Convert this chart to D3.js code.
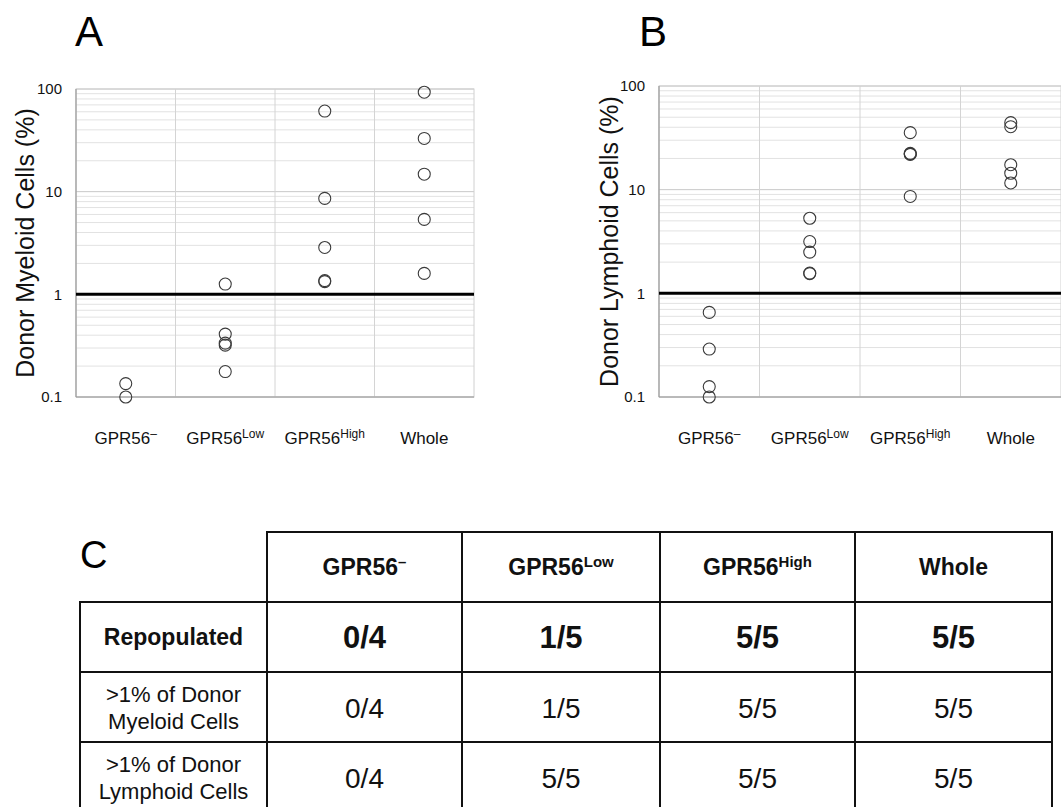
<!DOCTYPE html>
<html>
<head>
<meta charset="utf-8">
<script src="https://cdn.jsdelivr.net/npm/d3@7/dist/d3.min.js"></script>
<style>
  html, body { margin: 0; padding: 0; background: #fff; }
  svg { display: block; font-family: "Liberation Sans", Arial, sans-serif; }
</style>
</head>
<body>
<svg id="chart" width="1061" height="807"></svg>
<script>
// ---------- DATA ----------
const categoryMain = ["GPR56", "GPR56", "GPR56", "Whole"];
const categorySup  = ["\u2013", "Low", "High", ""];

// Panel A: Donor Myeloid Cells (%)
const myeloidNeg  = [0.135, 0.1];
const myeloidLow  = [1.26, 0.41, 0.335, 0.32, 0.177];
const myeloidHigh = [61, 8.6, 2.86, 1.36, 1.33];
const myeloidWhole = [93, 33, 14.8, 5.37, 1.6];

// Panel B: Donor Lymphoid Cells (%)
const lymphoidNeg  = [0.655, 0.29, 0.126, 0.1];
const lymphoidLow  = [5.3, 3.16, 2.5, 1.57, 1.55];
const lymphoidHigh = [35.5, 22.4, 22.1, 21.9, 8.6];
const lymphoidWhole = [44.3, 40.5, 17.4, 14.4, 11.6];

const yTickLabels = [0.1, 1, 10, 100];
const threshold = 1;

// Panel C table
const tableRowLabels = [["Repopulated"], [">1% of Donor", "Myeloid Cells"], [">1% of Donor", "Lymphoid Cells"]];
const repopulated   = ["0/4", "1/5", "5/5", "5/5"];
const myeloidOver1  = ["0/4", "1/5", "5/5", "5/5"];
const lymphoidOver1 = ["0/4", "5/5", "5/5", "5/5"];

// ---------- DRAW ----------
const svg = d3.select("#chart");

function catLabel(sel, i, sizeMain, sizeSup) {
  sel.append("tspan").text(categoryMain[i]);
  if (categorySup[i]) {
    sel.append("tspan")
      .attr("font-size", sizeSup)
      .attr("dy", -sizeMain * 0.36)
      .text(categorySup[i]);
  }
}

function drawPanel(cfg) {
  const g = svg.append("g");
  const x = d3.scaleBand().domain(d3.range(4)).range([cfg.left, cfg.right]).padding(0);
  const y = d3.scaleLog().domain([0.1, 100]).range([cfg.bottom, cfg.top]);

  // minor + major horizontal gridlines
  const allTicks = y.ticks();
  g.append("g").selectAll("line").data(allTicks).join("line")
    .attr("x1", cfg.left).attr("x2", cfg.right)
    .attr("y1", d => y(d)).attr("y2", d => y(d))
    .attr("stroke", d => yTickLabels.includes(d) ? "#c8c8c8" : "#e2e2e2")
    .attr("stroke-width", 1);

  // vertical category gridlines
  g.append("g").selectAll("line").data(d3.range(1, 4)).join("line")
    .attr("x1", d => x(d)).attr("x2", d => x(d))
    .attr("y1", cfg.top).attr("y2", cfg.bottom)
    .attr("stroke", "#d4d4d4").attr("stroke-width", 1);

  // border
  g.append("rect").attr("x", cfg.left).attr("y", cfg.top)
    .attr("width", cfg.right - cfg.left).attr("height", cfg.bottom - cfg.top)
    .attr("fill", "none").attr("stroke", "#d0d0d0");
  g.append("line").attr("x1", cfg.left).attr("x2", cfg.left).attr("y1", cfg.top).attr("y2", cfg.bottom)
    .attr("stroke", "#9a9a9a").attr("stroke-width", 1.2);
  g.append("line").attr("x1", cfg.left).attr("x2", cfg.right).attr("y1", cfg.bottom).attr("y2", cfg.bottom)
    .attr("stroke", "#9a9a9a").attr("stroke-width", 1.2);

  // y tick labels via axis
  const axis = d3.axisLeft(y).tickValues(yTickLabels).tickSize(0).tickPadding(0)
    .tickFormat(d => d3.format("~g")(d));
  const ag = g.append("g").attr("transform", `translate(${cfg.labelRight},0)`).call(axis);
  ag.select(".domain").remove();
  ag.selectAll("text").attr("font-size", 15).attr("fill", "#111")
    .attr("font-family", "Liberation Sans, Arial, sans-serif");

  // threshold line
  g.append("line").attr("x1", cfg.left).attr("x2", cfg.right)
    .attr("y1", y(threshold)).attr("y2", y(threshold))
    .attr("stroke", "#000").attr("stroke-width", 3);

  // points
  cfg.series.forEach((vals, i) => {
    g.append("g").selectAll("circle").data(vals).join("circle")
      .attr("cx", x(i) + x.bandwidth() / 2)
      .attr("cy", d => y(d))
      .attr("r", 6)
      .attr("fill", "none")
      .attr("stroke", "#3a3a3a")
      .attr("stroke-width", 1.1);
  });

  // x labels
  d3.range(4).forEach(i => {
    const t = g.append("text")
      .attr("x", x(i) + x.bandwidth() / 2)
      .attr("y", cfg.xLabelY)
      .attr("text-anchor", "middle")
      .attr("font-size", 17)
      .attr("fill", "#111");
    catLabel(t, i, 17, 12);
  });

  // y title
  g.append("text")
    .attr("transform", `translate(${cfg.titleX},${(cfg.top + cfg.bottom) / 2}) rotate(-90)`)
    .attr("text-anchor", "middle")
    .attr("dominant-baseline", "central")
    .attr("font-size", 25)
    .attr("fill", "#111")
    .text(cfg.title);

  // panel letter
  g.append("text").attr("x", cfg.letterX).attr("y", 46)
    .attr("font-size", 42).attr("fill", "#000").text(cfg.letter);
}

drawPanel({
  left: 76, right: 474, top: 89, bottom: 397, labelRight: 62,
  xLabelY: 444, titleX: 25, letterX: 75, letter: "A",
  title: "Donor Myeloid Cells (%)",
  series: [myeloidNeg, myeloidLow, myeloidHigh, myeloidWhole]
});
drawPanel({
  left: 659, right: 1061, top: 86, bottom: 397, labelRight: 645,
  xLabelY: 444, titleX: 609, letterX: 639, letter: "B",
  title: "Donor Lymphoid Cells (%)",
  series: [lymphoidNeg, lymphoidLow, lymphoidHigh, lymphoidWhole]
});

// ---------- TABLE (C) ----------
const colEdges = [80, 267, 462, 660, 855, 1052];
const rowEdges = [532, 602, 672, 742, 812];
const tg = svg.append("g");
const rowsData = [repopulated, myeloidOver1, lymphoidOver1];

svg.append("text").attr("x", 80).attr("y", 568).attr("font-size", 38).attr("fill", "#000").text("C");

// header cells
for (let c = 0; c < 4; c++) {
  const x0 = colEdges[c + 1], x1 = colEdges[c + 2];
  tg.append("rect").attr("x", x0).attr("y", rowEdges[0]).attr("width", x1 - x0).attr("height", rowEdges[1] - rowEdges[0])
    .attr("fill", "none").attr("stroke", "#111").attr("stroke-width", 2);
  const t = tg.append("text").attr("x", (x0 + x1) / 2).attr("y", (rowEdges[0] + rowEdges[1]) / 2 + 8)
    .attr("text-anchor", "middle").attr("font-size", 23).attr("font-weight", "bold").attr("fill", "#111");
  catLabel(t, c, 23, 15);
}
// body rows
for (let r = 0; r < 3; r++) {
  const y0 = rowEdges[r + 1], y1 = rowEdges[r + 2];
  const cy = (y0 + y1) / 2;
  for (let c = 0; c < 5; c++) {
    const x0 = colEdges[c], x1 = colEdges[c + 1];
    tg.append("rect").attr("x", x0).attr("y", y0).attr("width", x1 - x0).attr("height", y1 - y0)
      .attr("fill", "none").attr("stroke", "#111").attr("stroke-width", 2);
  }
  const lines = tableRowLabels[r];
  const lbl = tg.append("text").attr("text-anchor", "middle").attr("fill", "#111")
    .attr("font-size", r === 0 ? 23 : 22).attr("font-weight", r === 0 ? "bold" : "normal");
  lines.forEach((ln, k) => {
    lbl.append("tspan").attr("x", (colEdges[0] + colEdges[1]) / 2)
      .attr("y", cy + 8 + (k - (lines.length - 1) / 2) * 27).text(ln);
  });
  rowsData[r].forEach((v, c) => {
    tg.append("text").attr("x", (colEdges[c + 1] + colEdges[c + 2]) / 2).attr("y", cy + 11)
      .attr("text-anchor", "middle").attr("fill", "#111")
      .attr("font-size", r === 0 ? 31 : 28).attr("font-weight", r === 0 ? "bold" : "normal")
      .text(v);
  });
}
</script>
</body>
</html>
